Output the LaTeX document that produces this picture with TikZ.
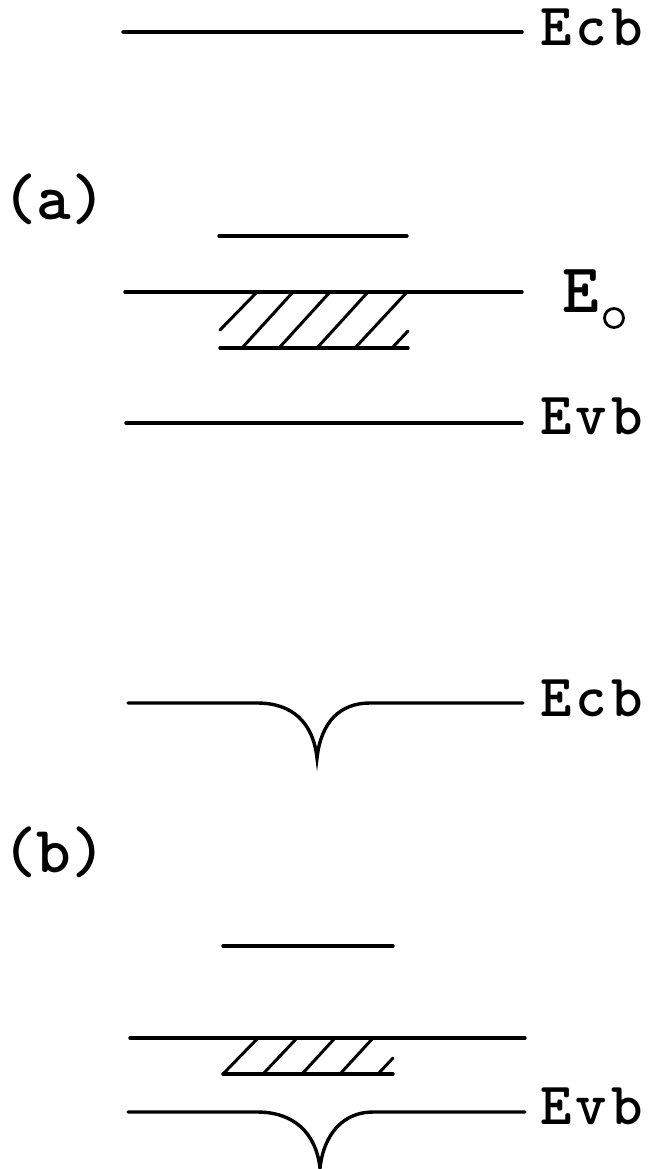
\documentclass[tikz,border=0pt]{standalone}
\usepackage{fontspec}
\newfontfamily\labfont{lmmonolt10-bold}[Extension=.otf,LetterSpace=7]
\newfontfamily\panfont{lmmonolt10-bold}[Extension=.otf]
\begin{document}
\begin{tikzpicture}[x=1pt,y=-1pt,
  level/.style={line width=3.4pt,line cap=round},
  hatch/.style={line width=3pt,line cap=round},
  lab/.style={font=\labfont\fontsize{60}{60}\selectfont,inner sep=0pt,anchor=base west},
  panel/.style={font=\panfont\fontsize{66}{66}\selectfont,inner sep=0pt,anchor=base west}]
\useasboundingbox (0,0) rectangle (654,1169);
% ---- (a)
\draw[level] (123,32) -- (522,32);
\node[lab] (ecba) at (540,46) {Ecb};
\node[panel] (pa) at (2,219) {(a)};
\draw[level] (219,236) -- (407,236);
\draw[level] (125,292) -- (522,292);
\draw[level] (220,348) -- (408,348);
\draw[hatch] (220,330) -- (257,292);
\draw[hatch] (242,348) -- (293,292);
\draw[hatch] (279,348) -- (330,292);
\draw[hatch] (317,348) -- (368,292);
\draw[hatch] (355,348) -- (407,292);
\draw[hatch] (392,348) -- (408,331);
\node[lab,font=\panfont\fontsize{70}{70}\selectfont] (e0) at (562,312) {E};
\node[circle,draw,line width=2.8pt,minimum size=19pt,inner sep=0pt] (sub) at (614,318) {};
\draw[level] (126,423) -- (522,423);
\node[lab] (evba) at (540,434) {Evb};
% ---- (b)
\draw[level] (128,703) -- (257,703)
  .. controls (292,703) and (313,722) .. (317,758)
  .. controls (321,722) and (340,703) .. (370,703) -- (523,703);
\node[lab] (ecbb) at (540,716) {Ecb};
\node[panel] (pb) at (2,872) {(b)};
\draw[level] (223,946) -- (393,946);
\draw[level] (130,1038) -- (525,1038);
\draw[level] (223,1074) -- (393,1074);
\draw[hatch] (223,1074) -- (258,1038);
\draw[hatch] (263,1074) -- (297,1038);
\draw[hatch] (302,1074) -- (335,1038);
\draw[hatch] (340,1074) -- (373,1038);
\draw[hatch] (378,1074) -- (393,1058);
\draw[level] (128,1112) -- (257,1112)
  .. controls (294,1112) and (316,1133) .. (320,1168)
  .. controls (324,1133) and (344,1112) .. (373,1112) -- (525,1112);
\node[lab] (evbb) at (540,1124) {Evb};
\end{tikzpicture}
\end{document}
